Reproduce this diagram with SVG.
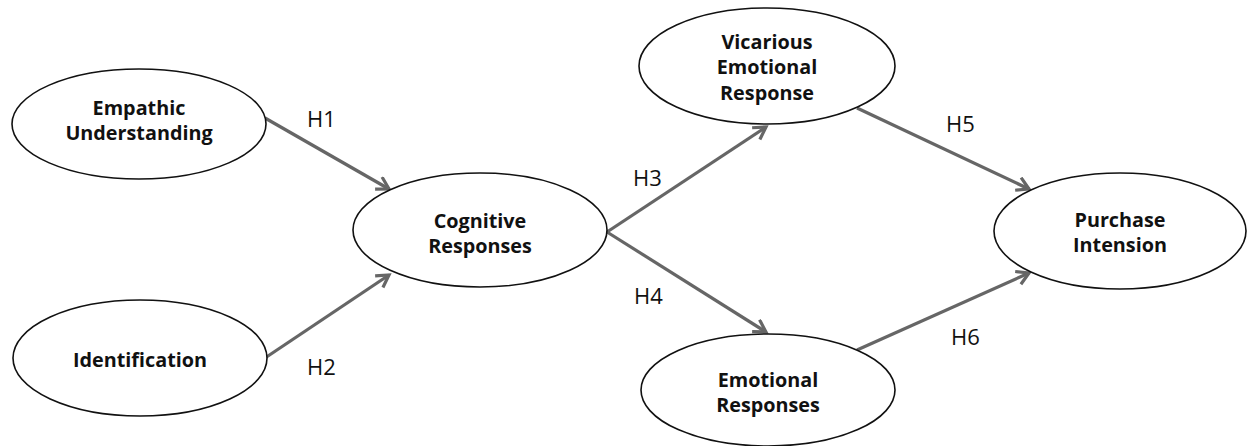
<svg xmlns="http://www.w3.org/2000/svg" width="1247" height="446" viewBox="0 0 1247 446">
<style>
.node ellipse{fill:#fff;stroke:#111;stroke-width:1.6}
.node text{font-family:"Open Sans","Liberation Sans",sans-serif;font-weight:bold;font-size:19.8px;fill:#111;text-anchor:middle}
.edge{stroke:#666;stroke-width:3.2;fill:none}
.lbl{font-family:"Open Sans","Liberation Sans",sans-serif;font-size:22px;fill:#111}
</style>
<defs>
<marker id="arr" markerUnits="userSpaceOnUse" markerWidth="20" markerHeight="20" refX="14" refY="8" orient="auto" viewBox="0 0 20 20">
<path d="M2,1 L14,8 L2,15" fill="none" stroke="#666" stroke-width="3.2" stroke-linejoin="miter"/>
</marker>
</defs>
<rect width="1247" height="446" fill="#fff"/>
<g id="connectors">
<line class="edge" x1="265" y1="118" x2="389" y2="189" marker-end="url(#arr)"/>
<line class="edge" x1="265" y1="358" x2="389" y2="275" marker-end="url(#arr)"/>
<line class="edge" x1="607" y1="232" x2="766" y2="127" marker-end="url(#arr)"/>
<line class="edge" x1="607" y1="232" x2="766" y2="332" marker-end="url(#arr)"/>
<line class="edge" x1="857" y1="108" x2="1029" y2="189" marker-end="url(#arr)"/>
<line class="edge" x1="857" y1="350" x2="1029" y2="273" marker-end="url(#arr)"/>
<text class="lbl" x="307" y="127">H1</text>
<text class="lbl" x="307" y="375">H2</text>
<text class="lbl" x="633" y="186">H3</text>
<text class="lbl" x="634" y="304">H4</text>
<text class="lbl" x="946" y="132">H5</text>
<text class="lbl" x="951" y="345">H6</text>
</g>
<g id="empathic" class="node">
<ellipse cx="139" cy="124" rx="127" ry="55"/>
<text x="139" y="115">Empathic</text>
<text x="139" y="140">Understanding</text>
</g>
<g id="identification" class="node">
<ellipse cx="140" cy="358" rx="127" ry="58"/>
<text x="140" y="367">Identification</text>
</g>
<g id="cognitive" class="node">
<ellipse cx="480" cy="230" rx="127" ry="57"/>
<text x="480" y="228">Cognitive</text>
<text x="480" y="253">Responses</text>
</g>
<g id="vicarious" class="node">
<ellipse cx="767" cy="66" rx="128" ry="58"/>
<text x="767" y="49">Vicarious</text>
<text x="767" y="74">Emotional</text>
<text x="767" y="100">Response</text>
</g>
<g id="emotional" class="node">
<ellipse cx="768" cy="390" rx="127" ry="56"/>
<text x="768" y="387">Emotional</text>
<text x="768" y="412">Responses</text>
</g>
<g id="purchase" class="node">
<ellipse cx="1120" cy="231" rx="126" ry="58"/>
<text x="1120" y="227">Purchase</text>
<text x="1120" y="252">Intension</text>
</g>
</svg>
